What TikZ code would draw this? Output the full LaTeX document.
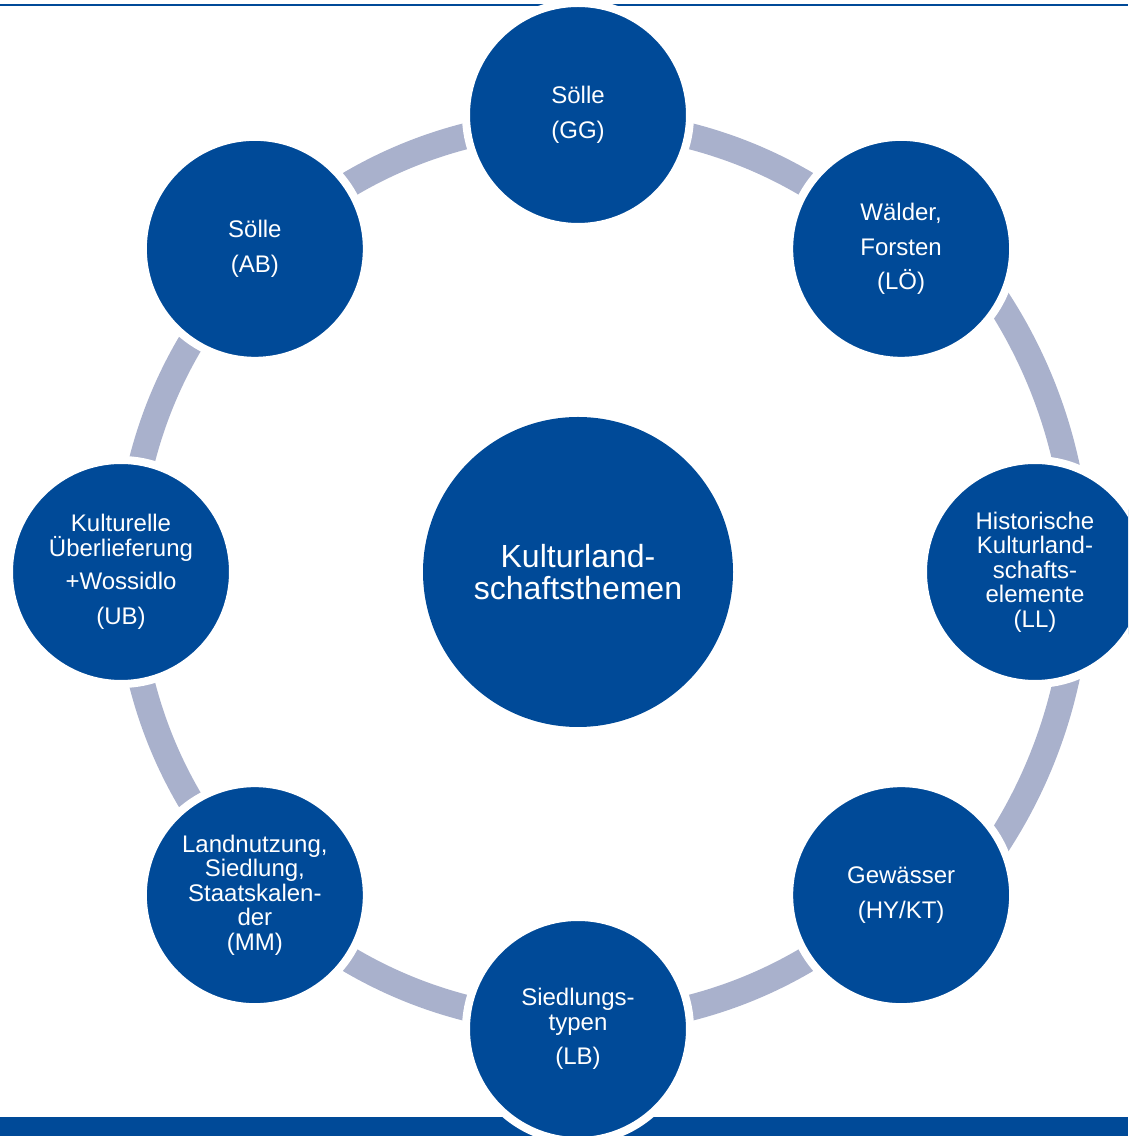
\documentclass[tikz,border=0pt]{standalone}
\usepackage{fontspec}
\setmainfont{Liberation Sans}
\definecolor{kblue}{RGB}{0,74,152}
\definecolor{kring}{RGB}{169,177,204}
\tikzset{
  thema/.style={circle,fill=kblue,draw=white,line width=8pt,minimum size=224pt,
    inner sep=0pt,text=white,align=center,font=\fontsize{24}{24.5}\selectfont},
  mitte/.style={circle,fill=kblue,minimum size=310pt,inner sep=0pt,
    text=white,align=center,font=\fontsize{32}{32}\selectfont},
  ring/.style={kring,line width=26pt}
}
\begin{document}
\begin{tikzpicture}[x=1pt,y=1pt]
      \path[use as bounding box] (0,0) rectangle (1128,1136);
      \clip (0,0) rectangle (1128,1136);

      %% frame lines
      \draw[kblue,line width=2pt] (0,1131) -- (1128,1131);
      \fill[kblue] (0,0) rectangle (1128,19);

      \begin{scope}[shift={(578,564)}]
      %% ring (right part bulges out)
      \draw[ring] (45:450) arc[start angle=45,end angle=315,radius=450];
      \draw[ring] (-45:500) arc[start angle=-45,end angle=45,radius=500];

      %% centre
      \node[mitte] (kern) at (0,0) {Kulturland-\\schaftsthemen};

      %% themes
      \node[thema] (gg) at (90:457) {S\"olle\\[10pt](GG)};
      \node[thema] (lo) at (45:457) {W\"alder,\\[10pt]Forsten\\[10pt](L\"O)};
      \node[thema] (ll) at (0:457) {Historische\\Kulturland-\\schafts-\\elemente\\(LL)};
      \node[thema] (hy) at (-45:457) {Gew\"asser\\[10pt](HY/KT)};
      \node[thema] (lb) at (-90:457) {Siedlungs-\\typen\\[10pt](LB)};
      \node[thema] (mm) at (-135:457) {Landnutzung,\\Siedlung,\\Staatskalen-\\der\\(MM)};
      \node[thema] (ub) at (180:457) {Kulturelle\\\"Uberlieferung\\[9pt]+Wossidlo\\[10pt](UB)};
      \node[thema] (ab) at (135:457) {S\"olle\\[10pt](AB)};
      \end{scope}
\end{tikzpicture}
\end{document}
